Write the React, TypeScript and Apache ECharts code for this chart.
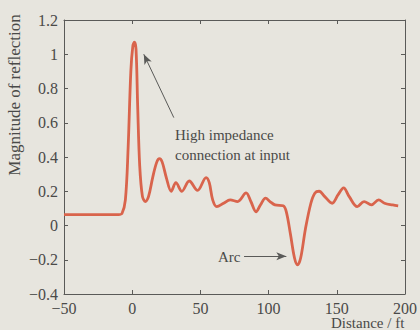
import React, { useEffect, useRef } from "react";
import * as echarts from "echarts";

const distance = [
  -50, -10, -7.5, -5, -3, -1, 0.5, 1.6, 2.8, 4, 5.5, 7.5, 9.6, 12, 15, 18, 20, 22, 25,
  28.6, 32, 36.4, 41.8, 47.9, 54.2, 56.5, 59, 62, 67, 71.8, 77.3, 83.5, 87, 90.8, 94,
  97.8, 101, 104.7, 110.7, 113, 116, 119, 121.2, 123.5, 127, 131, 134, 137, 141, 146.6,
  151, 155, 159, 165, 170, 175.3, 180.7, 185, 191, 195,
];
const reflection = [
  0.064, 0.064, 0.07, 0.15, 0.45, 0.9, 1.05, 1.07, 1.03, 0.7, 0.35, 0.17, 0.14, 0.17, 0.28,
  0.37, 0.39, 0.37, 0.28, 0.2, 0.25, 0.2, 0.26, 0.205, 0.28, 0.25, 0.15, 0.11, 0.13, 0.15,
  0.14, 0.19, 0.14, 0.08, 0.12, 0.16, 0.14, 0.12, 0.115, 0.08, -0.05, -0.19, -0.23, -0.19,
  -0.02, 0.13, 0.19, 0.2, 0.17, 0.13, 0.18, 0.22, 0.17, 0.11, 0.14, 0.12, 0.15, 0.13, 0.12,
  0.115,
];
const annotationLines = ["High impedance", "connection at input"];
const arcLabel = "Arc";
const xTitle = "Distance / ft";
const yTitle = "Magnitude of reflection";

const SERIF = "'Liberation Serif', 'DejaVu Serif', serif";
const TEXT = "#4a4a48";
const AXIS = "#5a5a58";

export default function App() {
  const ref = useRef<HTMLDivElement>(null);
  useEffect(() => {
    if (!ref.current) return;
    const chart = echarts.init(ref.current, undefined, { renderer: "svg" });
    const fmt = (v: number) => String(v).replace("-", "\u2212");
    const tickCommon = { show: true, inside: true, length: 4, lineStyle: { color: AXIS, width: 1 } };
    const lineCommon = { show: true, onZero: false, lineStyle: { color: AXIS, width: 1 } };
    chart.setOption({
      animation: false,
      backgroundColor: "#e7e5de",
      grid: { left: 64, right: 14, top: 20, bottom: 36 },
      xAxis: [
        {
          type: "value", min: -50, max: 200, interval: 50,
          axisLine: lineCommon,
          axisTick: tickCommon,
          splitLine: { show: false },
          axisLabel: { color: TEXT, fontFamily: SERIF, fontSize: 16, margin: 6, formatter: fmt },
        },
        {
          type: "value", position: "top", min: -50, max: 200, interval: 50,
          axisLine: lineCommon,
          axisTick: tickCommon, axisLabel: { show: false }, splitLine: { show: false },
        },
      ],
      yAxis: [
        {
          type: "value", min: -0.4, max: 1.2, interval: 0.2,
          axisLine: lineCommon,
          axisTick: tickCommon,
          splitLine: { show: false },
          axisLabel: { color: TEXT, fontFamily: SERIF, fontSize: 16, margin: 6, formatter: (v: number) => fmt(Math.round(v * 10) / 10) },
        },
        {
          type: "value", position: "right", min: -0.4, max: 1.2, interval: 0.2,
          axisLine: lineCommon,
          axisTick: tickCommon, axisLabel: { show: false }, splitLine: { show: false },
        },
      ],
      series: [
        {
          type: "line",
          data: distance.map((d, i) => [d, reflection[i]]),
          smooth: 0.35,
          symbol: "none",
          lineStyle: { color: "#d9644c", width: 2.8 },
          markLine: {
            silent: true,
            symbol: ["none", "arrow"],
            symbolSize: [6, 10],
            label: { show: false },
            lineStyle: { color: "#5a5a58", width: 1, type: "solid" },
            data: [
              [{ coord: [30.5, 0.63] }, { coord: [8.5, 1.0] }],
              [{ coord: [82, -0.18] }, { coord: [113, -0.18] }],
            ],
          },
        },
      ],
      graphic: [
        {
          type: "text", left: 175, top: 125,
          style: { text: annotationLines.join("\n"), fill: TEXT, font: `15px ${SERIF}`, lineHeight: 20 },
        },
        {
          type: "text", left: 218, top: 249,
          style: { text: arcLabel, fill: TEXT, font: `15px ${SERIF}` },
        },
        {
          type: "text", left: 331, top: 315,
          style: { text: xTitle, fill: TEXT, font: `15px ${SERIF}` },
        },
        {
          type: "text", x: 14, y: 95, rotation: Math.PI / 2,
          style: { text: yTitle, fill: TEXT, font: `17px ${SERIF}`, align: "center", verticalAlign: "middle" },
        },
      ],
    });
    return () => chart.dispose();
  }, []);
  return <div ref={ref} style={{ width: 420, height: 330, position: "fixed", left: 0, top: 0 }} />;
}
